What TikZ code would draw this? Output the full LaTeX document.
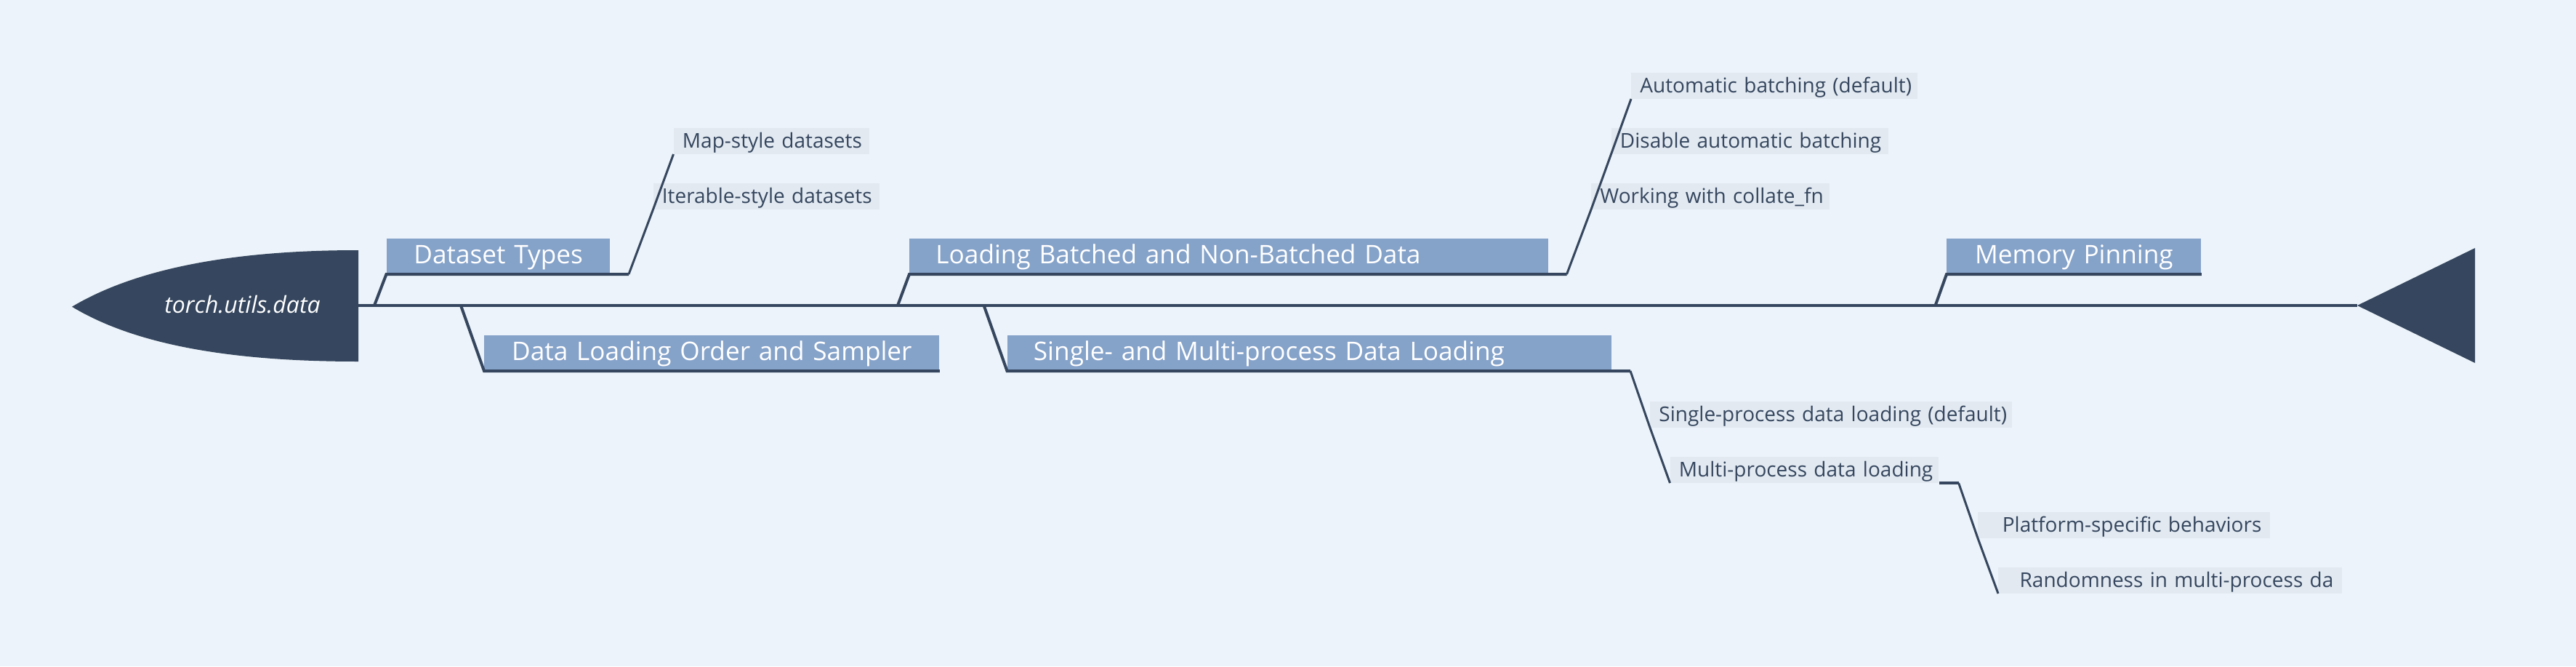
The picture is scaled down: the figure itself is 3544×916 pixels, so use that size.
\documentclass[tikz,border=0pt]{standalone}
\usepackage{fontspec}
\setmainfont{Open Sans}
\usepackage{xcolor}
\usepackage{tikz}

\definecolor{bgblue}{RGB}{236,243,250}
\definecolor{navy}{RGB}{53,70,94}
\definecolor{topicblue}{RGB}{133,162,201}
\definecolor{leafgrey}{RGB}{226,233,241}

\begin{document}
\begin{tikzpicture}[x=0.5pt, y=-0.5pt,
    nowrap/.style={execute at begin node={\hbox\bgroup}, execute at end node={\egroup}},
    topic/.style={fill=topicblue, text=white, anchor=south west, inner xsep=18pt, inner ysep=0pt,
      text height=17.5pt, text depth=7pt, font=\fontsize{17.6}{21}\selectfont, nowrap},
    leaf/.style={fill=leafgrey, text=navy, anchor=south west, inner xsep=6pt, inner ysep=0pt,
      text height=13.85pt, text depth=4.15pt, font=\fontsize{14}{17}\selectfont, nowrap},
    bone/.style={draw=navy, line width=2pt, line join=miter},
    twig/.style={draw=navy, line width=1.5pt, line join=miter}]

    \path[use as bounding box, fill=bgblue] (0,0) rectangle (3544,916);

    % head and tail of the fish
    \fill[navy] (493,344) -- (493,497) .. controls (317,497) and (185.7,474) .. (99,421.7)
        .. controls (185.7,370) and (317,344) .. (493,344) -- cycle;
    \fill[navy] (3243,420) -- (3405,341) -- (3405,499) -- cycle;
    \node[text=white, anchor=base, font=\itshape\fontsize{16}{19}\selectfont] (root) at (333.5,430.7) {torch.utils.data};

    \coordinate (hd) at (493,420);
    \coordinate (tl) at (3243,420);
    \draw[bone] (hd) -- (tl);

    % main topics
    \node[topic, text width=117.75pt, align=center] (dt) at (531.5,377) {Dataset Types};
    \node[topic, text width=277pt, align=center] (dlo) at (666,510) {Data Loading Order and Sampler};
    \node[topic, text width=403.25pt, align=left] (lb) at (1251,377) {Loading Batched and Non-Batched Data};
    \node[topic, text width=379.5pt, align=left] (smp) at (1385.5,510) {Single- and Multi-process Data Loading};
    \node[topic, text width=139pt, align=center] (mem) at (2678,377) {Memory Pinning};

    \coordinate (sdt) at (515,420);
    \coordinate (sdlo) at (634,420);
    \coordinate (slb) at (1235,420);
    \coordinate (ssmp) at (1353.6,420);
    \coordinate (smem) at (2662.6,420);

    \coordinate (dtend) at (865,377);
    \coordinate (lbend) at (2155.5,377);
    \coordinate (smpend) at (2243,510);

    \draw[bone] (sdt) -- (dt.south west) -- (dtend);
    \draw[bone] (sdlo) -- (dlo.south west) -- (dlo.south east);
    \draw[bone] (slb) -- (lb.south west) -- (lbend);
    \draw[bone] (ssmp) -- (smp.south west) -- (smpend);
    \draw[bone] (smem) -- (mem.south west) -- (mem.south east);

    % sub topics
    \node[leaf, text width=122.75pt, align=left] (map) at (926.5,212) {Map-style datasets};
    \node[leaf, text width=143.5pt, align=left] (iter) at (898.5,288) {Iterable-style datasets};

    \node[leaf, text width=185pt, align=left] (auto) at (2244,136) {Automatic batching (default)};
    \node[leaf, text width=178.3pt, align=left] (dis) at (2216.5,212) {Disable automatic batching};
    \node[leaf, text width=151.8pt, align=left] (work) at (2189,288) {Working with collate\_fn};

    \node[leaf, text width=237pt, align=left] (sp) at (2270,588) {Single-process data loading (default)};
    \node[leaf, text width=172.75pt, align=left] (mp) at (2297.5,664) {Multi-process data loading};

    \node[leaf, text width=189pt, align=right] (plat) at (2721,740) {Platform-specific behaviors};
    \node[leaf, text width=224.5pt, align=right] (rand) at (2749,816) {Randomness in multi-process da};

    \coordinate (mpend) at (2694.6,664);

    \draw[twig] (dtend) -- (iter.south west) -- (map.south west);
    \draw[twig] (lbend) -- (work.south west) -- (dis.south west) -- (auto.south west);
    \draw[twig] (smpend) -- (sp.south west) -- (mp.south west);
    \draw[bone] (mp.south east) -- (mpend);
    \draw[twig] (mpend) -- (plat.south west) -- (rand.south west);
\end{tikzpicture}
\end{document}
